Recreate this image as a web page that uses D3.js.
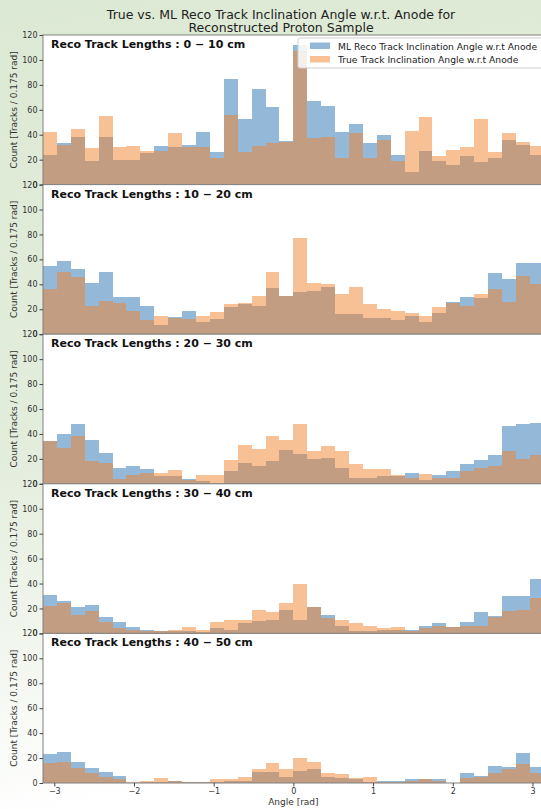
<!DOCTYPE html>
<html lang="en">
<meta charset="utf-8">
<head>
    <script src='https://cdn.jsdelivr.net/npm/d3@7/dist/d3.min.js'></script>
    <style>
        body { margin: 0; }
        text { font-family: 'DejaVu Sans', sans-serif; }
    </style>
</head>
<body>
</body>

<script>
    var width = 541, height = 809;

    // panel labels (track length ranges)
    var ranges = ['0 \u2212 10', '10 \u2212 20', '20 \u2212 30', '30 \u2212 40', '40 \u2212 50'];
    var nBins = 36;

    // counts per 0.175 rad bin, from -pi to pi
    var recoCounts = [
        [24, 33, 38, 19, 38, 20, 20, 25, 31, 30, 32, 42, 26, 85, 53, 77, 62, 35, 112, 67, 63, 42, 49, 33, 40, 24, 10, 27, 19, 16, 23, 18, 21, 36, 32, 24],
        [55, 59, 52, 41, 50, 30, 30, 23, 7, 14, 19, 10, 12, 22, 24, 23, 37, 31, 34, 35, 38, 16, 16, 13, 13, 11, 15, 10, 17, 26, 30, 29, 49, 44, 57, 57],
        [34, 40, 48, 35, 25, 13, 14, 12, 6, 6, 4, 2, 0, 10, 17, 14, 18, 27, 24, 20, 21, 13, 5, 5, 6, 6, 9, 3, 7, 10, 16, 19, 23, 46, 48, 49],
        [31, 26, 21, 23, 13, 9, 5, 3, 2, 2, 2, 1, 4, 3, 8, 10, 11, 19, 11, 21, 15, 6, 2, 2, 3, 3, 3, 6, 8, 5, 9, 17, 14, 30, 30, 44],
        [23, 25, 17, 12, 9, 6, 0, 1, 1, 2, 1, 1, 1, 2, 2, 9, 9, 5, 10, 11, 5, 4, 3, 1, 2, 2, 3, 3, 3, 0, 8, 6, 14, 13, 24, 13]
    ];
    var trueCounts = [
        [42, 32, 45, 29, 55, 30, 31, 27, 27, 41, 30, 30, 21, 56, 26, 31, 33, 34, 107, 37, 38, 21, 41, 21, 36, 19, 43, 54, 23, 28, 30, 53, 26, 41, 34, 31],
        [36, 50, 46, 23, 27, 25, 19, 11, 15, 13, 12, 15, 18, 24, 25, 31, 50, 31, 77, 41, 40, 32, 38, 24, 20, 19, 17, 15, 22, 25, 23, 32, 36, 26, 47, 40],
        [34, 29, 38, 18, 17, 4, 7, 9, 9, 11, 3, 7, 7, 19, 31, 28, 38, 35, 48, 26, 30, 26, 16, 12, 12, 7, 5, 8, 5, 5, 10, 13, 14, 26, 20, 23],
        [22, 24, 15, 18, 9, 4, 3, 2, 2, 3, 5, 3, 9, 11, 11, 19, 17, 24, 40, 21, 12, 11, 8, 6, 4, 5, 2, 4, 6, 5, 6, 6, 13, 18, 19, 28],
        [16, 17, 12, 8, 5, 3, 1, 2, 4, 2, 1, 1, 3, 3, 5, 11, 16, 11, 20, 17, 8, 7, 4, 5, 1, 1, 2, 3, 2, 0, 4, 5, 8, 11, 15, 8]
    ];

    var yTicks = [0, 20, 40, 60, 80, 100, 120];
    var xTicks = [-3, -2, -1, 0, 1, 2, 3];
    var seriesNames = ['ML Reco Track Inclination Angle w.r.t Anode', 'True Track Inclination Angle w.r.t Anode'];
    var colors = ['rgb(41,113,177)', 'rgb(239,129,43)'];

    var left = 43, top0 = 35, panelH = 149.6;
    var binW = 2 * Math.PI / nBins;

    var svg = d3.select('body').append('svg').attr('width', width).attr('height', height);

    // light green backdrop fading out towards the bottom
    var grad = svg.append('defs').append('linearGradient').attr('id', 'bg')
        .attr('x1', 0).attr('y1', 0).attr('x2', 0.15).attr('y2', 1);
    grad.append('stop').attr('offset', '0%').attr('stop-color', '#dce9d4');
    grad.append('stop').attr('offset', '55%').attr('stop-color', '#e3eddc');
    grad.append('stop').attr('offset', '100%').attr('stop-color', '#ffffff');
    svg.append('rect').attr('width', width).attr('height', height).attr('fill', 'url(#bg)');

    var x = d3.scaleLinear().domain([-Math.PI, Math.PI]).range([left, left + 2 * Math.PI * 79.7]);

    svg.append('text').attr('x', 281).attr('y', 19).attr('text-anchor', 'middle')
        .attr('font-size', 12.5).attr('fill', '#222')
        .text('True vs. ML Reco Track Inclination Angle w.r.t. Anode for');
    svg.append('text').attr('x', 281).attr('y', 32).attr('text-anchor', 'middle')
        .attr('font-size', 12.5).attr('fill', '#222')
        .text('Reconstructed Proton Sample');

    ranges.forEach(function(r, p) {
        var top = top0 + p * panelH;
        var y = d3.scaleLinear().domain([0, 120]).range([top + panelH, top]);
        var g = svg.append('g');

        g.append('rect').attr('x', left).attr('y', top)
            .attr('width', width - left + 5).attr('height', panelH).attr('fill', 'white');

        [recoCounts[p], trueCounts[p]].forEach(function(counts, s) {
            g.append('g').selectAll('rect')
                .data(counts)
                .join('rect')
                .attr('x', function(d, i) { return x(-Math.PI + i * binW); })
                .attr('width', function(d, i) { return x(-Math.PI + (i + 1) * binW) - x(-Math.PI + i * binW); })
                .attr('y', function(d) { return y(d); })
                .attr('height', function(d) { return y(0) - y(d); })
                .attr('fill', colors[s])
                .attr('fill-opacity', 0.5)
                .attr('shape-rendering', 'crispEdges');
        });

        // frame
        g.append('rect').attr('x', left).attr('y', top)
            .attr('width', width - left + 5).attr('height', panelH)
            .attr('fill', 'none').attr('stroke', '#808080').attr('stroke-width', 1);

        var ya = g.append('g').attr('transform', 'translate(' + left + ',0)')
            .call(d3.axisLeft(y).tickValues(yTicks).tickSize(3.5).tickPadding(2));
        ya.select('.domain').remove();
        ya.selectAll('line').attr('stroke', '#444');
        ya.selectAll('text').attr('font-size', 8).attr('fill', '#333')
            .attr('font-family', 'DejaVu Sans, sans-serif');

        g.append('text')
            .attr('transform', 'translate(17,' + (top + panelH / 2) + ') rotate(-90)')
            .attr('text-anchor', 'middle').attr('font-size', 9).attr('fill', '#333')
            .text('Count [Tracks / 0.175 rad]');

        g.append('text').attr('x', 51).attr('y', top + 13)
            .attr('font-size', 11).attr('font-weight', 'bold').attr('fill', '#111')
            .text('Reco Track Lengths : ' + r + ' cm');
    });

    // x axis on the bottom panel only
    var bottom = top0 + 5 * panelH;
    var xa = svg.append('g').attr('transform', 'translate(0,' + bottom + ')')
        .call(d3.axisBottom(x).tickValues(xTicks).tickSize(3.5).tickPadding(2)
            .tickFormat(function(d) { return d < 0 ? '\u2212' + (-d) : d; }));
    xa.select('.domain').remove();
    xa.selectAll('line').attr('stroke', '#444');
    xa.selectAll('text').attr('font-size', 8).attr('fill', '#333')
        .attr('font-family', 'DejaVu Sans, sans-serif');
    svg.append('text').attr('x', x(0)).attr('y', 805).attr('text-anchor', 'middle')
        .attr('font-size', 9).attr('fill', '#333').text('Angle [rad]');

    // legend in first panel
    var lg = svg.append('g').attr('transform', 'translate(298,38)');
    lg.append('rect').attr('width', 250).attr('height', 30).attr('rx', 2)
        .attr('fill', 'white').attr('fill-opacity', 0.85).attr('stroke', '#d0d0d0');
    seriesNames.forEach(function(n, i) {
        lg.append('rect').attr('x', 12).attr('y', 4.5 + i * 13.5).attr('width', 20).attr('height', 6.5)
            .attr('fill', colors[i]).attr('fill-opacity', 0.5);
        lg.append('text').attr('x', 40).attr('y', 11.5 + i * 13.5)
            .attr('font-size', 9.2).attr('fill', '#222').text(n);
    });
</script>
</html>
